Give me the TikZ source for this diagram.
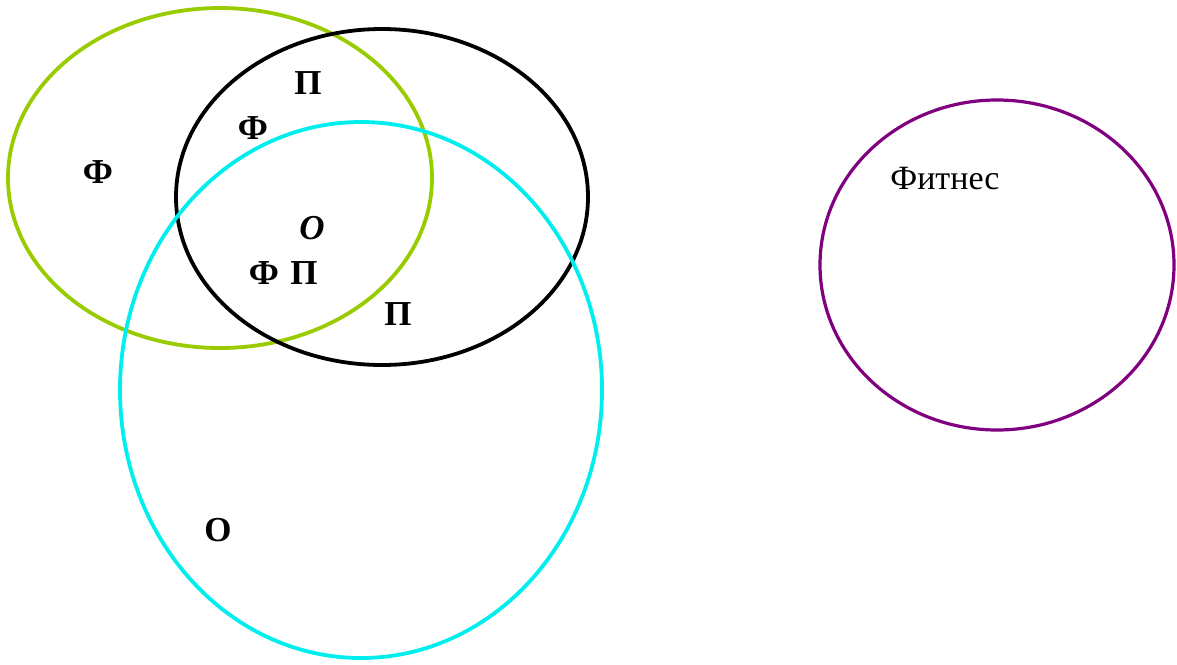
\documentclass[tikz,border=0pt]{standalone}
\usepackage{fontspec}
\setmainfont{Liberation Serif}
\definecolor{leaf}{RGB}{153,204,0}
\definecolor{aqua}{RGB}{0,238,238}
\definecolor{plum}{RGB}{128,0,128}
\begin{document}
\begin{tikzpicture}[x=1pt,y=-1pt,
  ring/.style={line width=3.8pt},
  lbl/.style={font=\fontsize{35}{35}\selectfont\bfseries, inner sep=0pt}]
\useasboundingbox (0,0) rectangle (1177,664);
% set circles
\draw[ring, leaf] (220,178) ellipse [x radius=212, y radius=170];
\draw[ring, black] (382,197) ellipse [x radius=206, y radius=168];
\draw[ring, aqua] (361,390) ellipse [x radius=241, y radius=268];
\draw[line width=3.2pt, plum] (997,265) ellipse [x radius=177, y radius=165];
% letters inside the regions
\node[lbl] (f1) at (98,172) {Ф};
\node[lbl] (p1) at (308,83) {П};
\node[lbl] (f2) at (253,128) {Ф};
\node[lbl, font=\fontsize{35}{35}\selectfont\bfseries\itshape] (o1) at (312,228) {О};
\node[lbl] (f3) at (264,273) {Ф};
\node[lbl] (p2) at (304,273) {П};
\node[lbl] (p3) at (398,314) {П};
\node[lbl] (o2) at (218,530) {О};
\node[lbl, font=\fontsize{34}{34}\selectfont] (fit) at (945,179) {Фитнес};
\end{tikzpicture}
\end{document}
